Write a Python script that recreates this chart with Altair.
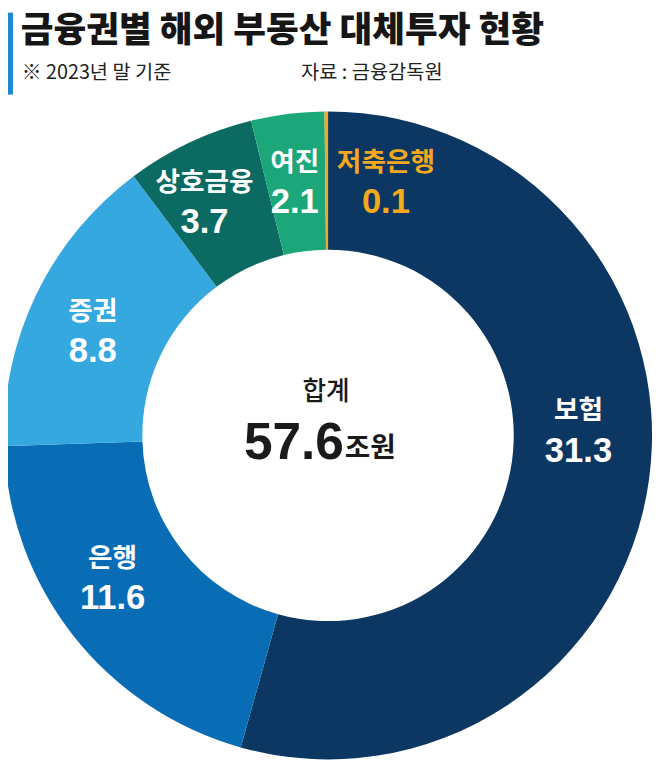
import altair as alt
import pandas as pd

# ---- data ----
categories = ["보험", "은행", "증권", "상호금융", "여진", "저축은행"]
values = [31.3, 11.6, 8.8, 3.7, 2.1, 0.1]
colors = ["#0b3762", "#086db5", "#35a8e0", "#0b6a62", "#1ba77a", "#f4a81d"]
label_colors = ["#ffffff", "#ffffff", "#ffffff", "#ffffff", "#ffffff", "#f4a81d"]

title_text = "금융권별 해외 부동산 대체투자 현황"
subtitle_text = "※ 2023년 말 기준"
source_text = "자료 : 금융감독원"
center_label = "합계"
total_text = f"{sum(values):.1f}"
unit_text = "조원"

# ---- layout / style (not data) ----
W, H = 655, 760
CX, CY = 324, 428
R_OUT, R_IN = 328, 188
R_LABEL = 262
nudges = {  # (dx, dy) label block nudges
    "보험": (-6, -40),
    "은행": (-12, -17),
    "증권": (-2, 8),
    "상호금융": (-13, 1),
    "여진": (-1, 4),
    "저축은행": (60, 6),
}
KFONT = "Noto Sans CJK KR"
NFONT = "Liberation Sans Narrow, Liberation Sans, Arial"

df = pd.DataFrame({
    "cat": categories,
    "value": values,
    "idx": list(range(len(categories))),
    "lcolor": label_colors,
})

base = alt.Chart(df)

arcs = base.mark_arc(outerRadius=R_OUT, innerRadius=R_IN, stroke=None).encode(
    theta=alt.Theta("value:Q", stack=True),
    order=alt.Order("idx:Q"),
    color=alt.Color("cat:N", scale=alt.Scale(domain=categories, range=colors), legend=None),
    x=alt.value(CX),
    y=alt.value(CY),
)

lab_base = base.transform_window(
    cum="sum(value)", sort=[alt.SortField("idx")], frame=[None, 0]
).transform_joinaggregate(
    total="sum(value)"
).transform_calculate(
    mid="2*PI*(datum.cum - datum.value/2)/datum.total",
    vtxt="format(datum.value, '.1f')",
)

label_layers = []
for c in categories:
    dx, dy = nudges[c]
    f = lab_base.transform_filter(alt.datum.cat == c)
    name = f.mark_text(
        radius=R_LABEL, dx=dx, dy=dy - 20, font=KFONT, fontSize=27, fontWeight="bold",
        align="center", baseline="middle",
    ).encode(
        theta=alt.Theta("mid:Q", scale=None),
        x=alt.value(CX), y=alt.value(CY),
        text="cat:N",
        color=alt.Color("lcolor:N", scale=None),
    )
    val = f.mark_text(
        radius=R_LABEL, dx=dx, dy=dy + 20, font=NFONT, fontSize=35, fontWeight="bold",
        align="center", baseline="middle",
    ).encode(
        theta=alt.Theta("mid:Q", scale=None),
        x=alt.value(CX), y=alt.value(CY),
        text="vtxt:N",
        color=alt.Color("lcolor:N", scale=None),
    )
    label_layers += [name, val]

one = alt.Chart(pd.DataFrame({"a": [0]}))

bar = one.mark_rule(color="#1a88d3", strokeWidth=5).encode(
    x=alt.value(2.5), y=alt.value(0), y2=alt.value(83)
)
title = one.mark_text(
    font=KFONT, fontSize=36, fontWeight=900, align="left", baseline="alphabetic", color="#161616"
).encode(x=alt.value(13), y=alt.value(30), text=alt.value(title_text))
subtitle = one.mark_text(
    font=KFONT, fontSize=20, align="left", baseline="middle", color="#222222"
).encode(x=alt.value(14), y=alt.value(61), text=alt.value(subtitle_text))
source = one.mark_text(
    font=KFONT, fontSize=20, align="right", baseline="middle", color="#222222"
).encode(x=alt.value(440), y=alt.value(61), text=alt.value(source_text))

c_label = one.mark_text(
    font=KFONT, fontSize=26, fontWeight=500, align="center", baseline="middle", color="#1a1a1a"
).encode(x=alt.value(CX - 2), y=alt.value(384), text=alt.value(center_label))
c_total = one.mark_text(
    font=NFONT, fontSize=52, fontWeight="bold", align="right", baseline="alphabetic", color="#1a1a1a"
).encode(x=alt.value(340), y=alt.value(452), text=alt.value(total_text))
c_unit = one.mark_text(
    font=KFONT, fontSize=28, fontWeight="bold", align="left", baseline="alphabetic", color="#1a1a1a"
).encode(x=alt.value(341), y=alt.value(450), text=alt.value(unit_text))

chart = alt.layer(
    arcs, *label_layers, bar, title, subtitle, source, c_label, c_total, c_unit
).properties(
    width=W, height=H,
    autosize=alt.AutoSizeParams(type="none"),
    padding=0,
).configure_view(stroke=None)

chart.save("out.html", embed_options={"renderer": "svg", "actions": False})
